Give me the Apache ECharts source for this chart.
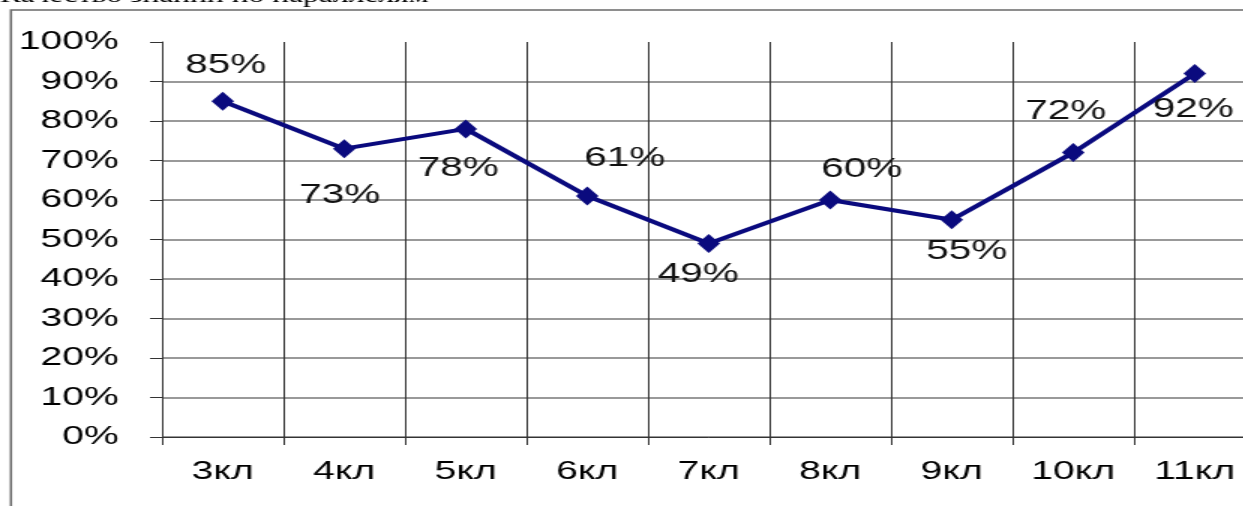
<!DOCTYPE html>
<html>
<head>
<meta charset="utf-8">
<script src="https://cdn.jsdelivr.net/npm/echarts@6/dist/echarts.min.js"></script>
<style>
html,body{margin:0;padding:0;background:#fff;overflow:hidden;width:1243px;height:506px;}
#wrap{position:absolute;left:0;top:0;width:840px;height:506px;transform:scaleX(1.5);transform-origin:0 0;}
</style>
</head>
<body>
<div id="wrap"></div>
<script>
var titleText = 'Качество знаний по параллелям';
var categories = ['3кл','4кл','5кл','6кл','7кл','8кл','9кл','10кл','11кл'];
var values = [85, 73, 78, 61, 49, 60, 55, 72, 92];
var yTicks = [0, 100, 10];

// label placement (styling, not data)
var labelOffsets = [[2,-36],[-3,47],[-5,40],[25,-38],[-7,31],[21,-30],[10,32],[-5,-41],[-1,36]];

var chart = echarts.init(document.getElementById('wrap'), null, {renderer:'canvas'});
var font = 'Liberation Sans, Arial, sans-serif';
var seriesData = values.map(function(v,i){
  return {value:v, label:{offset:labelOffsets[i]}};
});
chart.setOption({
  animation:false,
  backgroundColor:'#fff',
  grid:{left:108,right:3,top:42,bottom:69,containLabel:false},
  graphic:[
    {type:'rect',z:-1,shape:{x:7.3,y:10,width:900,height:600},style:{fill:'none',stroke:'#6a6a6a',lineWidth:1.5}},
    {type:'text',style:{text:titleText,x:0,y:7,fontSize:21,fontFamily:'Liberation Serif, Times New Roman, serif',fill:'#000',verticalAlign:'bottom'}}
  ],
  xAxis:{
    type:'category',
    data:categories,
    boundaryGap:true,
    axisLine:{show:true,lineStyle:{color:'#333',width:1}},
    axisTick:{show:true,interval:0,length:8,lineStyle:{color:'#333',width:1}},
    splitLine:{show:true,interval:0,lineStyle:{color:'#333',width:1}},
    axisLabel:{interval:0,fontSize:26,color:'#000',fontFamily:font,margin:22}
  },
  yAxis:{
    type:'value',
    min:yTicks[0],max:yTicks[1],interval:yTicks[2],
    axisLine:{show:true,lineStyle:{color:'#333',width:1}},
    axisTick:{show:true,length:8,lineStyle:{color:'#333',width:1}},
    splitLine:{show:true,showMaxLine:false,lineStyle:{color:'#777',width:1.5}},
    axisLabel:{formatter:'{value}%',fontSize:26,color:'#000',fontFamily:font,margin:29}
  },
  series:[{
    type:'line',
    data:seriesData,
    symbol:'diamond',
    symbolSize:[15,19],
    lineStyle:{color:'#0a0a7e',width:4},
    itemStyle:{color:'#0a0a7e'},
    label:{show:true,position:'inside',formatter:'{c}%',fontSize:27,color:'#111',fontFamily:font},
    emphasis:{disabled:true}
  }]
});
</script>
</body>
</html>
